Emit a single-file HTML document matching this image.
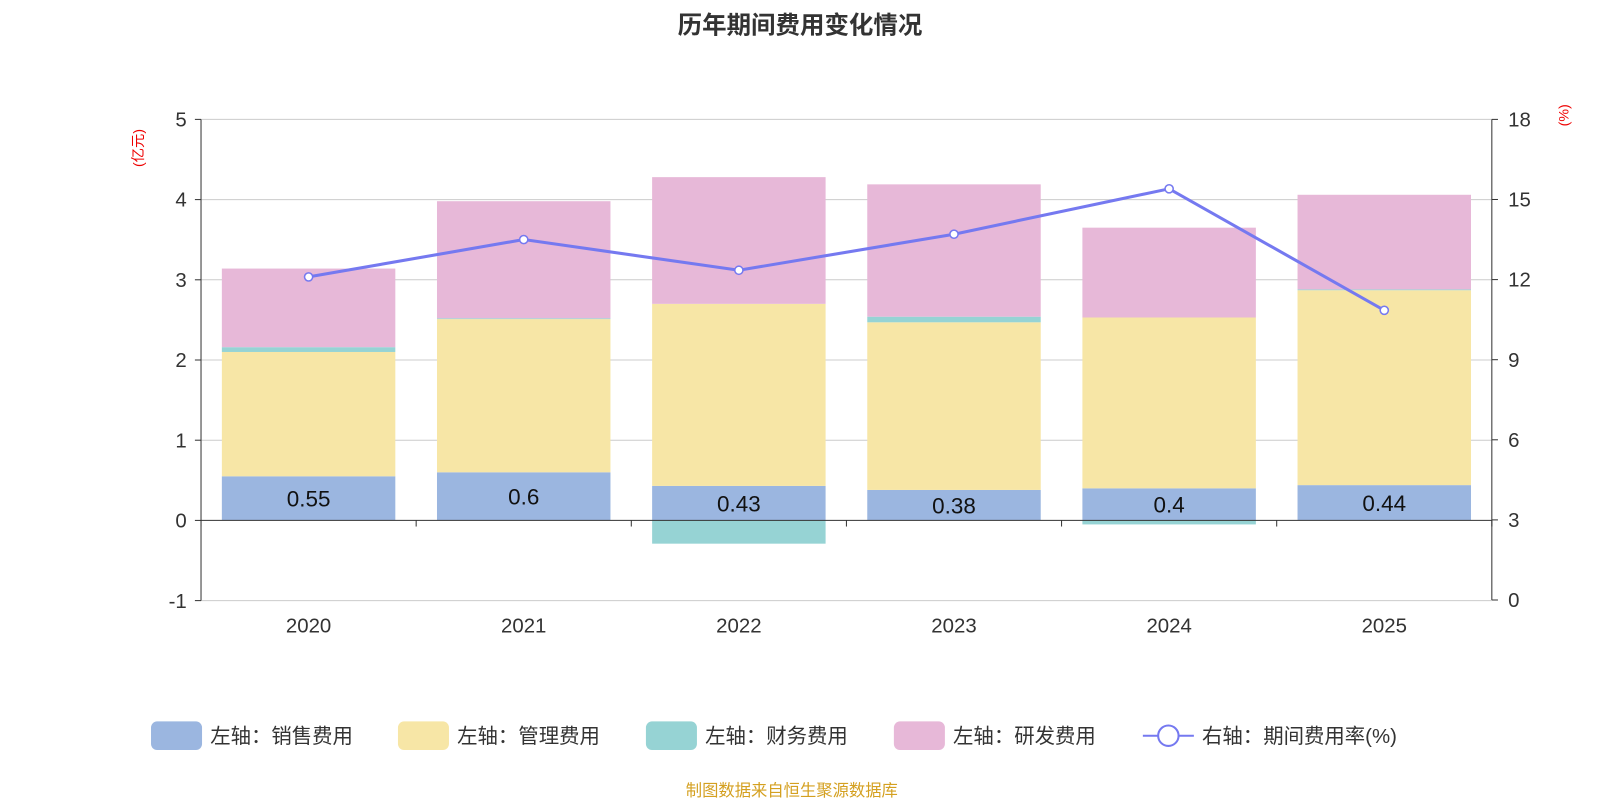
<!DOCTYPE html>
<html><head><meta charset="utf-8"><style>
body{margin:0;background:#fff;width:1600px;height:800px;overflow:hidden;font-family:"Liberation Sans","Noto Sans CJK SC",sans-serif}
</style></head><body>
<svg id="chart" width="1600" height="800" viewBox="0 0 1568 784" xmlns="http://www.w3.org/2000/svg">
<text x="784" y="33" text-anchor="middle" font-size="24" font-weight="bold" fill="#333" font-family="Liberation Sans,Noto Sans CJK SC,sans-serif">历年期间费用变化情况</text>
<text transform="translate(140,145) rotate(-90)" text-anchor="middle" font-size="14" fill="#e00" font-family="Liberation Sans,Noto Sans CJK SC,sans-serif">(亿元)</text>
<text transform="translate(1537,113) rotate(-90)" text-anchor="middle" font-size="14" fill="#e00">(%)</text>
<g id="grid"></g><g id="bars"></g><g id="axes"></g><g id="line"></g>
<g font-size="20" fill="#333" font-family="Liberation Sans,Noto Sans CJK SC,sans-serif">
<g><rect x="148" y="707" width="50" height="28" rx="6" fill="#9bb6e0"/><text x="206" y="728">左轴：销售费用</text></g>
<g><rect x="390" y="707" width="50" height="28" rx="6" fill="#f7e6a6"/><text x="448" y="728">左轴：管理费用</text></g>
<g><rect x="633" y="707" width="50" height="28" rx="6" fill="#96d3d4"/><text x="691" y="728">左轴：财务费用</text></g>
<g><rect x="876" y="707" width="50" height="28" rx="6" fill="#e7b8d8"/><text x="934" y="728">左轴：研发费用</text></g>
<g><line x1="1120" y1="721" x2="1170" y2="721" stroke="#7579f0" stroke-width="2"/><circle cx="1145" cy="721" r="10" fill="#fff" stroke="#7579f0" stroke-width="2"/><text x="1178" y="728">右轴：期间费用率(%)</text></g>
</g>
<text x="776" y="780" text-anchor="middle" font-size="16" fill="#d4a020" font-family="Liberation Sans,Noto Sans CJK SC,sans-serif">制图数据来自恒生聚源数据库</text>
</svg>
<script>
const categories=["2020","2021","2022","2023","2024","2025"];
const sales=[0.55,0.6,0.43,0.38,0.4,0.44];
const mgmt=[1.55,1.91,2.27,2.09,2.13,2.43];
const finance=[0.06,0.01,-0.29,0.07,-0.05,0.01];
const rd=[0.98,1.46,1.58,1.65,1.12,1.18];
const rate=[12.1,13.5,12.35,13.7,15.4,10.85];
const leftTicks=[-1,0,1,2,3,4,5];
const rightTicks=[0,3,6,9,12,15,18];
const NS="http://www.w3.org/2000/svg";
const X0=197,X1=1462,bw=(X1-X0)/categories.length,barW=170;
const yL=v=>510-v*78.6;
const yR=v=>588-v*(471/18);
const xC=i=>X0+bw*(i+0.5);
function mk(tag,attrs,parent){const e=document.createElementNS(NS,tag);for(const k in attrs)e.setAttribute(k,attrs[k]);document.getElementById(parent).appendChild(e);return e;}
leftTicks.forEach((t,i)=>{
 if(t!==0){const g=mk('line',{x1:X0,x2:X1,y1:yL(t),y2:yL(t),stroke:'#ccc'},'grid');
 
 }
 const l=mk('text',{x:183,y:yL(t)+7,'text-anchor':'end','font-size':20,fill:'#333'},'axes');l.textContent=t;
 
 
 mk('line',{x1:X0-6,x2:X0,y1:yL(t),y2:yL(t),stroke:'#333'},'axes');
});
rightTicks.forEach(t=>{
 const l=mk('text',{x:1478,y:yR(t)+7,'font-size':20,fill:'#333'},'axes');l.textContent=t;
 
 
 mk('line',{x1:X1,x2:X1+6,y1:yR(t),y2:yR(t),stroke:'#333'},'axes');
});
mk('line',{x1:X0,x2:X0,y1:yL(5),y2:yL(-1),stroke:'#333'},'axes');
mk('line',{x1:X1,x2:X1,y1:yR(18),y2:yR(0),stroke:'#333'},'axes');
categories.forEach((c,i)=>{
 let pos=0,neg=0;
 const seg=(v,col,name)=>{let y0,y1;if(v>=0){y0=pos;y1=pos+v;pos=y1;}else{y0=neg;y1=neg+v;neg=y1;}
  const r=mk('rect',{x:xC(i)-barW/2,width:barW,y:Math.min(yL(y0),yL(y1)),height:Math.abs(yL(y0)-yL(y1)),fill:col},'bars');
  
  };
 seg(sales[i],'#9bb6e0','sales');seg(mgmt[i],'#f7e6a6','mgmt');seg(finance[i],'#96d3d4','finance');seg(rd[i],'#e7b8d8','rd');
 const v=mk('text',{x:xC(i),y:(yL(0)+yL(sales[i]))/2+8,'text-anchor':'middle','font-size':22,fill:'#111'},'bars');v.textContent=sales[i];
 
 
 const t=mk('text',{x:xC(i),y:620,'text-anchor':'middle','font-size':20,fill:'#333'},'axes');t.textContent=c;
 
 
 mk('line',{x1:X0+bw*i,x2:X0+bw*i,y1:510,y2:516,stroke:'#333'},'axes');
});
mk('line',{x1:X0,x2:X1,y1:510,y2:510,stroke:'#333'},'axes');
mk('line',{x1:X1,x2:X1,y1:510,y2:516,stroke:'#333'},'axes');
const pts=rate.map((r,i)=>xC(i)+','+yR(r)).join(' ');
const pl=mk('polyline',{points:pts,fill:'none',stroke:'#7579f0','stroke-width':3},'line');


rate.forEach((r,i)=>{const c=mk('circle',{cx:xC(i),cy:yR(r),r:4,fill:'#fff',stroke:'#7579f0','stroke-width':1.5},'line');
 
 });
</script>
</body></html>
